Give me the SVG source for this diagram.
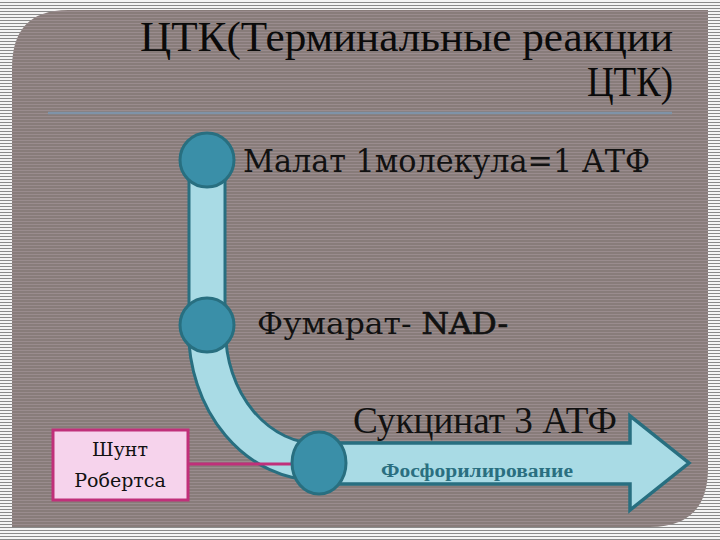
<svg xmlns="http://www.w3.org/2000/svg" width="720" height="540" viewBox="0 0 720 540">
<defs>
<pattern id="outer" width="4" height="3" patternUnits="userSpaceOnUse">
<rect width="4" height="3" fill="#f4f4f4"/>
<rect y="2" width="4" height="1" fill="#8a8a8a"/>
</pattern>
<pattern id="panelp" width="4" height="3" patternUnits="userSpaceOnUse">
<rect width="4" height="3" fill="#887c7a"/>
<rect y="2" width="4" height="1" fill="#9a8c8e"/>
</pattern>
<style>
.node{fill:#3a8fa8;stroke:#286f80;stroke-width:3}
.lbl{font-family:"DejaVu Serif","Liberation Serif",serif;fill:#111}
.title{font-family:"Liberation Serif","Times New Roman",serif;fill:#0a0a0a;font-size:42px}
</style>
</defs>
<rect width="720" height="540" fill="url(#outer)"/>
<path d="M12,68 Q12,10 68,10 L708,10 L708,468 Q708,527 650,527 L12,527 Z" fill="url(#panelp)"/>
<g id="title">
<text class="title" x="673" y="51" text-anchor="end" textLength="533" lengthAdjust="spacingAndGlyphs">ЦТК(Терминальные реакции</text>
<text class="title" x="673" y="96" text-anchor="end" textLength="86" lengthAdjust="spacingAndGlyphs">ЦТК)</text>
<line x1="48" y1="113" x2="672" y2="113" stroke="#7f93a8" stroke-width="2.5"/>
</g>
<g id="connectors">
<rect x="189" y="160" width="36" height="170" fill="#a9dbe5" stroke="#286f80" stroke-width="3"/>
<path d="M207,330 A111,132 0 0 0 318,462" fill="none" stroke="#286f80" stroke-width="40"/>
<path d="M207,330 A111,132 0 0 0 318,462" fill="none" stroke="#a9dbe5" stroke-width="34"/>
<path d="M318,443 L630,443 L630,416 L689,463 L630,510 L630,484 L318,484 Z" fill="#a9dbe5" stroke="#286f80" stroke-width="3.5" stroke-linejoin="miter"/>
<line x1="188" y1="464" x2="292" y2="464" stroke="#c0307a" stroke-width="3"/>
</g>
<g id="malat">
<circle class="node" cx="207" cy="160" r="27"/>
<text class="lbl" x="243" y="172" font-size="31" textLength="407" lengthAdjust="spacingAndGlyphs">Малат 1молекула=1 АТФ</text>
</g>
<g id="fumarat">
<circle class="node" cx="207" cy="325" r="27"/>
<text class="lbl" x="257" y="334" font-size="29" textLength="251" lengthAdjust="spacingAndGlyphs">Фумарат- <tspan stroke="#111" stroke-width="0.7">NAD-</tspan></text>
</g>
<g id="sukcinat">
<ellipse class="node" cx="319" cy="463" rx="27" ry="31"/>
<text x="353" y="433" font-family="Liberation Serif,DejaVu Serif,serif" fill="#111" font-size="37" textLength="264" lengthAdjust="spacingAndGlyphs">Сукцинат 3 АТФ</text>
<text x="381" y="477" font-family="Liberation Serif,DejaVu Serif,serif" font-weight="bold" font-size="18" fill="#2a6f80" textLength="192" lengthAdjust="spacingAndGlyphs">Фосфорилирование</text>
</g>
<g id="shunt">
<rect x="53" y="430" width="135" height="70" fill="#f6d3ec" stroke="#c0307a" stroke-width="3"/>
<text class="lbl" x="120" y="456" font-size="19" text-anchor="middle" fill="#333">Шунт</text>
<text class="lbl" x="120" y="487" font-size="19" text-anchor="middle" fill="#333">Робертса</text>
</g>
</svg>
